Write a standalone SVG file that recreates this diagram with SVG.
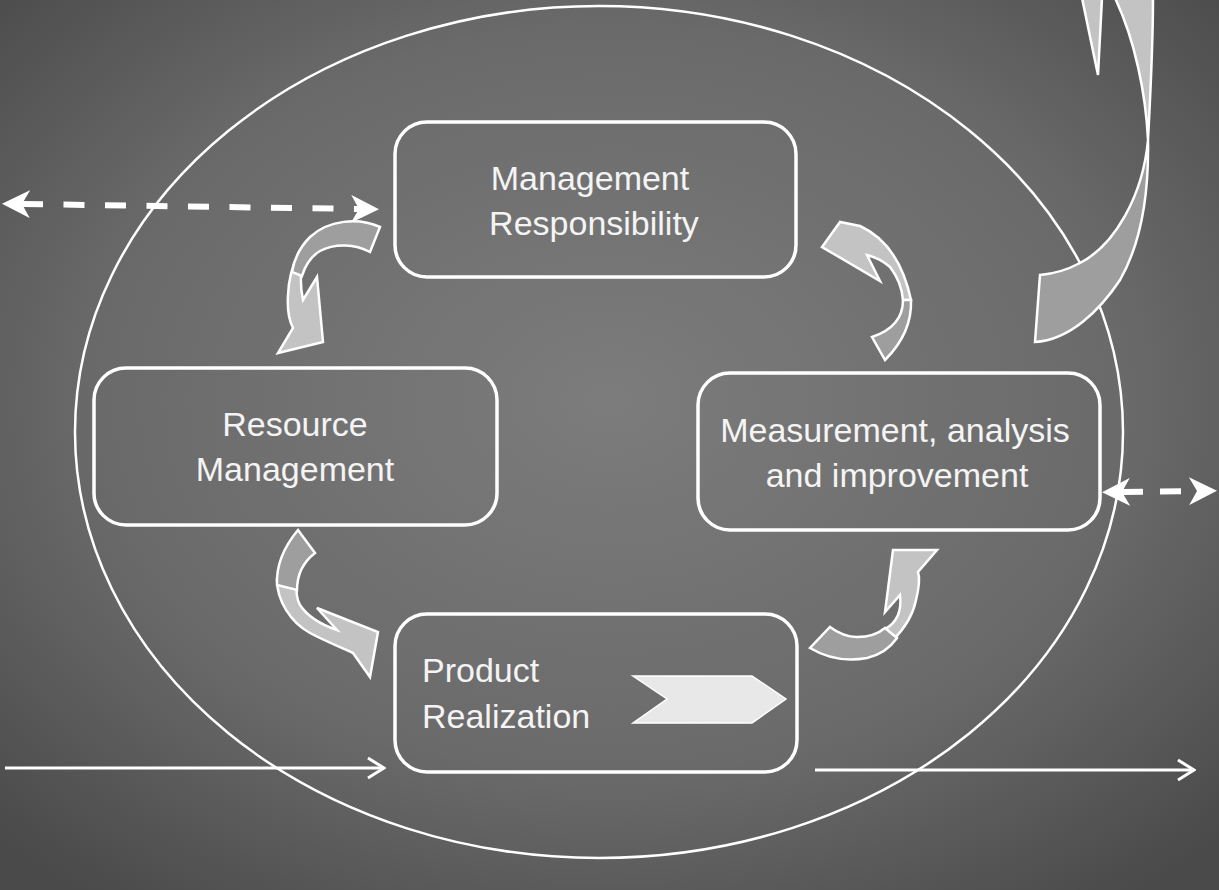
<svg xmlns="http://www.w3.org/2000/svg" width="1219" height="890" viewBox="0 0 1219 890">
<defs>
<radialGradient id="bg" cx="50%" cy="45%" r="70%">
<stop offset="0" stop-color="#7c7c7c"/>
<stop offset="0.6" stop-color="#6a6a6a"/>
<stop offset="1" stop-color="#4a4a4a"/>
</radialGradient>
<marker id="stealth" viewBox="0 0 28 28" refX="8" refY="14" markerWidth="28" markerHeight="28" markerUnits="userSpaceOnUse" orient="auto-start-reverse">
<path d="M0,0 L28,14 L0,28 L8,14 Z" fill="#ffffff"/>
</marker>
<marker id="open" viewBox="0 0 20 24" refX="18" refY="12" markerWidth="20" markerHeight="24" markerUnits="userSpaceOnUse" orient="auto">
<path d="M2,2 L18,12 L2,22" fill="none" stroke="#ffffff" stroke-width="3"/>
</marker>
</defs>
<style>
.box{fill:none;stroke:#ffffff;stroke-width:3.5}
.lbl{font-family:"Liberation Sans",Arial,sans-serif;font-size:34px;fill:#f4f4f4}
.dark{fill:#9e9e9e;stroke:#ffffff;stroke-width:2.5;stroke-linejoin:miter}
.light{fill:#c3c3c3;stroke:#ffffff;stroke-width:2.5;stroke-linejoin:miter}
.dash{fill:none;stroke:#ffffff;stroke-width:6}
.solid{fill:none;stroke:#ffffff;stroke-width:3}
</style>
<rect x="0" y="0" width="1219" height="890" fill="url(#bg)"/>
<g id="boundary">
<ellipse cx="599" cy="432" rx="524" ry="426" fill="none" stroke="#ffffff" stroke-width="2.5"/>
</g>
<g id="connectors">
<path class="dash" d="M22,204 L359,209" stroke-dasharray="21 20.5" marker-start="url(#stealth)" marker-end="url(#stealth)"/>
<path class="dash" d="M1122,492 L1197,491" stroke-dasharray="21 17" marker-start="url(#stealth)" marker-end="url(#stealth)"/>
<path class="solid" d="M5,768 L384,768" marker-end="url(#open)"/>
<path class="solid" d="M815,770 L1194,770" marker-end="url(#open)"/>
<g id="curved-a">
<path class="light" d="M310,238 C297,252 289,272 288,295 C287,310 289,320 293,328 L278,353 L323,342 L317,277 L303,300 C300,285 300,272 304,262 Z"/>
<path class="dark" d="M380,227 C358,217 328,220 310,237 C300,247 294,260 292,272 L302,276 C305,266 310,257 320,251 C335,243 355,244 370,252 Z"/>
</g>
<g id="curved-b">
<path class="light" d="M903,300 C902,288 897,276 890,267 C882,260 875,257 867,255 L880,281 L822,247 L840,222 L860,226 C882,236 902,258 911,300 Z"/>
<path class="dark" d="M885,360 C900,345 912,325 911,300 L903,300 C903,318 893,330 872,337 Z"/>
</g>
<g id="curved-c">
<path class="light" d="M277,580 C277,600 290,622 310,633 C325,641 340,647 353,653 L370,677 L378,632 L317,608 L337,630 C322,625 308,617 300,605 C296,598 296,590 297,582 Z"/>
<path class="dark" d="M298,530 C283,548 276,565 277,585 L297,590 C297,575 302,563 315,553 Z"/>
</g>
<g id="curved-d">
<path class="light" d="M893,640 C905,628 913,615 916,600 C919,588 920,578 918,572 L937,550 L893,550 L885,612 L900,595 C901,603 900,610 898,615 C895,622 890,627 883,630 Z"/>
<path class="dark" d="M810,648 C825,657 845,662 867,658 C880,655 890,648 897,638 L885,628 C878,634 868,637 857,637 C848,637 838,633 830,627 Z"/>
</g>
<g id="curved-e">
<path class="light" d="M1082,-2 L1098,75 L1102,-2 Z"/>
<path class="light" d="M1115,-2 C1135,40 1146,95 1148,140 C1150,100 1153,50 1153,-2 Z"/>
<path class="dark" d="M1148,140 C1143,195 1115,245 1080,263 C1065,271 1052,274 1040,275 L1035,342 C1070,340 1100,310 1120,280 C1140,245 1149,195 1148,140 Z"/>
</g>
</g>
<g id="node-management-responsibility">
<rect class="box" x="395" y="122" width="401" height="155" rx="32"/>
<text class="lbl" x="590" y="190" text-anchor="middle">Management</text>
<text class="lbl" x="594" y="235" text-anchor="middle">Responsibility</text>
</g>
<g id="node-resource-management">
<rect class="box" x="94" y="368" width="403" height="157" rx="32"/>
<text class="lbl" x="295" y="436" text-anchor="middle">Resource</text>
<text class="lbl" x="295" y="481" text-anchor="middle">Management</text>
</g>
<g id="node-measurement">
<rect class="box" x="698" y="373" width="402" height="157" rx="32"/>
<text class="lbl" x="895" y="442" text-anchor="middle">Measurement, analysis</text>
<text class="lbl" x="897" y="487" text-anchor="middle">and improvement</text>
</g>
<g id="node-product-realization">
<rect class="box" x="395" y="614" width="402" height="158" rx="32"/>
<text class="lbl" x="422" y="682">Product</text>
<text class="lbl" x="422" y="728">Realization</text>
<polygon points="633,676 752,676 786,699 752,723 633,723 667,699" fill="#e8e8e8" stroke="#ffffff" stroke-width="1.5"/>
</g>
</svg>
